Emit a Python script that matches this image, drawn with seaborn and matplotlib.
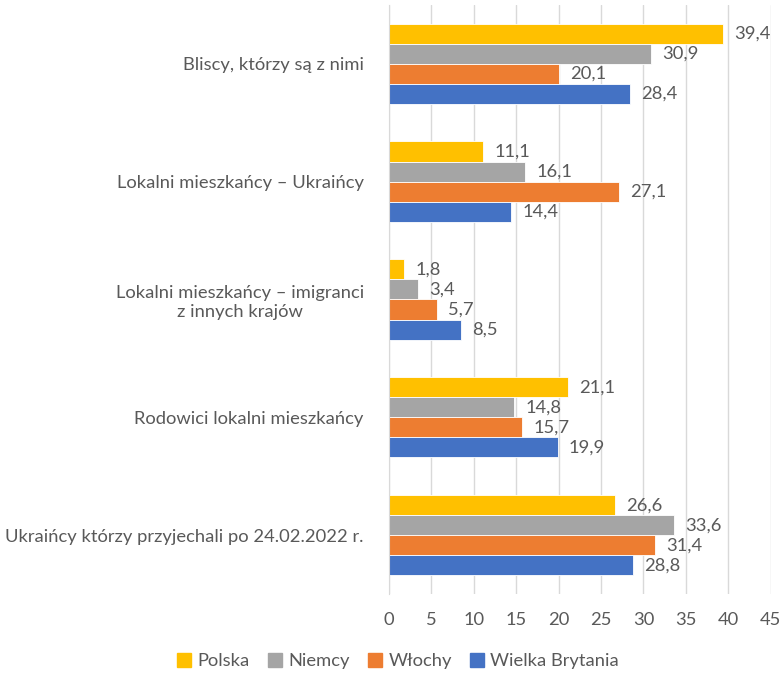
import pandas as pd
import matplotlib.pyplot as plt
import seaborn as sns

# Data
categories = [
    "Bliscy, którzy są z nimi",
    "Lokalni mieszkańcy – Ukraińcy",
    "Lokalni mieszkańcy – imigranci\nz innych krajów",
    "Rodowici lokalni mieszkańcy",
    "Ukraińcy którzy przyjechali po 24.02.2022 r.",
]
countries = ["Polska", "Niemcy", "Włochy", "Wielka Brytania"]
polska = [39.4, 11.1, 1.8, 21.1, 26.6]
niemcy = [30.9, 16.1, 3.4, 14.8, 33.6]
wlochy = [20.1, 27.1, 5.7, 15.7, 31.4]
wielka_brytania = [28.4, 14.4, 8.5, 19.9, 28.8]
colors = ["#FFC000", "#A5A5A5", "#ED7D31", "#4472C4"]

series = [polska, niemcy, wlochy, wielka_brytania]
rows = []
for country, vals in zip(countries, series):
    for cat, v in zip(categories, vals):
        rows.append({"category": cat, "country": country, "value": v})
df = pd.DataFrame(rows)

sns.set_style("white")
plt.rcParams["font.family"] = ["Lato", "DejaVu Sans"]
text_color = "#595959"
fs = 13.2

fig = plt.figure(figsize=(7.84, 6.76), dpi=100)
ax = fig.add_axes([0.496, 0.121, 0.487, 0.872])

sns.barplot(data=df, x="value", y="category", hue="country", order=categories,
            hue_order=countries, palette=colors, orient="h", width=0.68,
            edgecolor="white", linewidth=0.6, saturation=1, legend=True, ax=ax)

# value labels with comma decimal separator
for container in ax.containers:
    labels = [f"{b.get_width():.1f}".replace(".", ",") for b in container]
    ax.bar_label(container, labels=labels, padding=8, fontsize=fs, color=text_color)

ax.set_xlim(0, 45)
ax.set_xticks(range(0, 46, 5))
ax.set_xlabel("")
ax.set_ylabel("")
ax.grid(axis="x", color="#D9D9D9", linewidth=1)
ax.set_axisbelow(True)
for side in ["top", "right", "bottom"]:
    ax.spines[side].set_visible(False)
ax.spines["left"].set_color("#D9D9D9")
ax.tick_params(axis="both", length=0, labelsize=fs, colors=text_color, pad=13)
ax.tick_params(axis="y", pad=18)
for lbl in ax.get_yticklabels():
    lbl.set_horizontalalignment("right")
    lbl.set_multialignment("center")

ax.legend_.remove()
handles = [plt.Rectangle((0, 0), 1, 1, color=c) for c in colors]
fig.legend(handles, countries, loc="center", bbox_to_anchor=(0.508, 0.022), ncol=4,
           frameon=False, fontsize=fs, handlelength=0.75, handleheight=0.75,
           columnspacing=1.0, handletextpad=0.35, labelcolor=text_color)

fig.savefig("out.png", dpi=100)
